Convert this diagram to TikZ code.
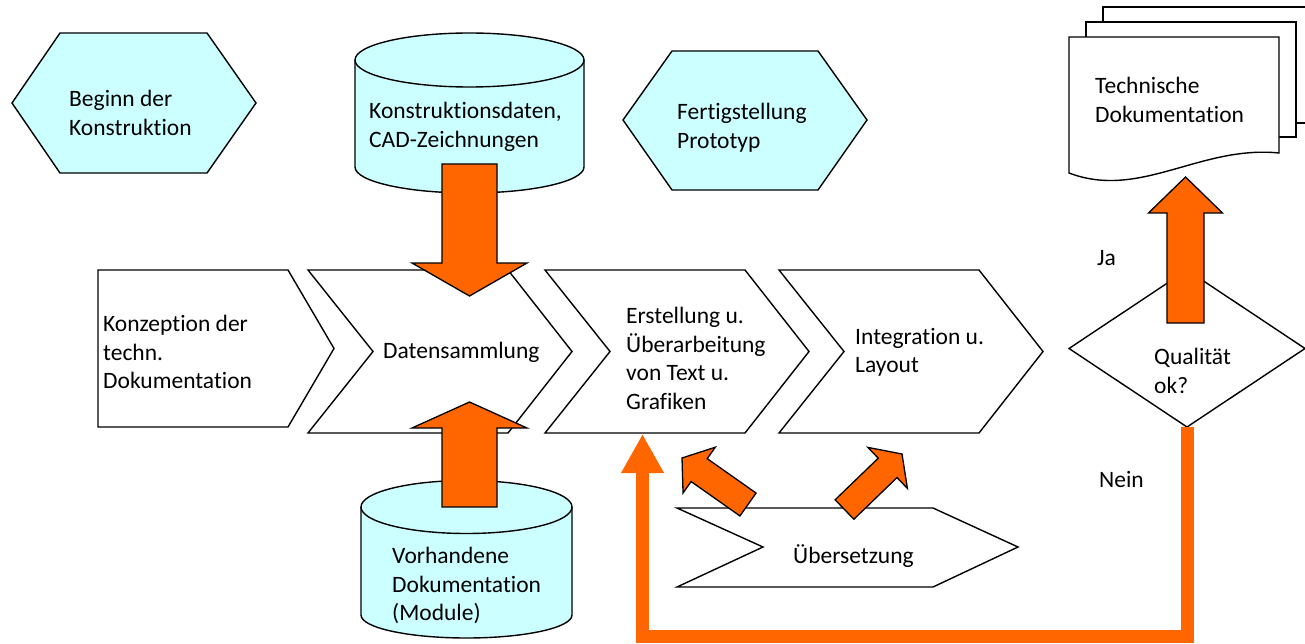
\documentclass[tikz,border=0pt]{standalone}
\usepackage{fontspec}
\setmainfont{Carlito}[Ligatures=NoCommon]
\usetikzlibrary{positioning, arrows.meta, calc}
\definecolor{Aqua}{HTML}{CCFFFF}
\definecolor{Signal}{HTML}{FF6600}

% block arrow: tail, tip, half shaft, half head, head length
\newcommand{\blockarrow}[5]{%
  \coordinate (ba-neck) at ($#2!#5!#1$);
  \draw[blockfill] ($#1!#3!90:#2$) -- ($(ba-neck)!#3!90:#2$) -- ($(ba-neck)!#4!90:#2$) -- #2
    -- ($(ba-neck)!#4!-90:#2$) -- ($(ba-neck)!#3!-90:#2$) -- ($#1!#3!-90:#2$) -- cycle;
}

\begin{document}
\begin{tikzpicture}[x=1pt, y=-1pt,
    outline/.style={draw=black, line width=1.4pt, line join=miter},
    event/.style={outline, fill=Aqua},
    stage/.style={outline, fill=white},
    txt/.style={anchor=north west, align=left, inner sep=0pt, font=\fontsize{23.5}{28.5}\selectfont, execute at begin node=\strut},
    blockfill/.style={outline, line width=1.3pt, fill=Signal},
    loopback/.style={draw=Signal, line width=13pt, -{Triangle[length=39pt, width=40pt]}}
]
\useasboundingbox (0,0) rectangle (1305,644);

% Top row
\draw[event] (12,103) -- (60,33) -- (207,33) -- (256,103) -- (207,173) -- (60,173) -- cycle;
\draw[event] (623,120) -- (672,51) -- (818,51) -- (867,120) -- (818,190) -- (672,190) -- cycle;
\draw[event] (355,60) -- (355,167) arc[start angle=180, end angle=0, x radius=114.5, y radius=26] -- (584,60);
\draw[event] (469.5,60) ellipse[x radius=114.5, y radius=27];

% Document stack
\draw[stage] (1103,7) rectangle (1313,123);
\draw[stage] (1086,22) rectangle (1296,137);
\draw[stage] (1069,37) -- (1279,37) -- (1279,153) .. controls (1200,145) and (1140,200) .. (1069,173) -- cycle;

% Process chain
\draw[stage] (98,270) -- (288,270) -- (334,348.5) -- (288,427) -- (98,427) -- cycle;
\foreach \X in {308,545,779}
  \draw[stage] (\X,270) -- ++(200,0) -- ++(64,81.5) -- ++(-64,81.5) -- ++(-200,0) -- ++(65,-81.5) -- cycle;
\draw[stage] (1069,348.5) -- (1187,270) -- (1305,348.5) -- (1187,427) -- cycle;
\draw[stage] (677,508) -- (933,508) -- (1018,547) -- (933,587) -- (677,587) -- (763,547) -- cycle;

% Archive
\draw[event] (361,507) -- (361,615) arc[start angle=180, end angle=0, x radius=105.5, y radius=23] -- (572,507);
\draw[event] (466.5,507) ellipse[x radius=105.5, y radius=26.5];

% Texts
\node[txt] (beginn) at (69,90) {Beginn der\\Konstruktion};
\node[txt] (cad) at (369,102) {Konstruktionsdaten,\\CAD-Zeichnungen};
\node[txt] (fertig) at (677,103) {Fertigstellung\\Prototyp};
\node[txt] (techdoc) at (1095,77) {Technische\\Dokumentation};
\node[txt] (konzept) at (103,315) {Konzeption der\\techn.\\Dokumentation};
\node[txt] (daten) at (383,338) {Datensammlung};
\node[txt] (erstellung) at (626,307) {Erstellung u.\\Überarbeitung\\von Text u.\\Grafiken};
\node[txt] (integration) at (855,328) {Integration u.\\Layout};
\node[txt] (qualitaet) at (1154,348) {Qualität\\ok?};
\node[txt] (vorhanden) at (392,547) {Vorhandene\\Dokumentation\\(Module)};
\node[txt] (uebersetzung) at (793,543) {Übersetzung};
\node[txt] (ja) at (1097,245) {Ja};
\node[txt] (nein) at (1099,467) {Nein};

% Flow arrows
\coordinate (cad-out) at (469.5,164);
\coordinate (daten-top) at (469.5,296);
\coordinate (vorh-out) at (469.5,507);
\coordinate (daten-bot) at (469.5,402);
\coordinate (qual-out) at (1185.5,323);
\coordinate (techdoc-in) at (1185.5,177);
\coordinate (ueber-l) at (748,504.5);
\coordinate (erst-in) at (682,458);
\coordinate (ueber-r) at (844.5,509.5);
\coordinate (integ-in) at (902,454);
\coordinate (qual-bot) at (1187,427);
\coordinate (loop-corner) at (642.5,636.5);
\coordinate (erst-foot) at (642.5,434);

\draw[loopback] (qual-bot) |- (loop-corner) -- (erst-foot);
\blockarrow{(cad-out)}{(daten-top)}{27.5pt}{57.5pt}{33pt}
\blockarrow{(vorh-out)}{(daten-bot)}{27.5pt}{57.5pt}{26pt}
\blockarrow{(qual-out)}{(techdoc-in)}{18.5pt}{37pt}{36pt}
\blockarrow{(ueber-l)}{(erst-in)}{14pt}{28pt}{21pt}
\blockarrow{(ueber-r)}{(integ-in)}{13.5pt}{28.5pt}{20pt}

\end{tikzpicture}
\end{document}
